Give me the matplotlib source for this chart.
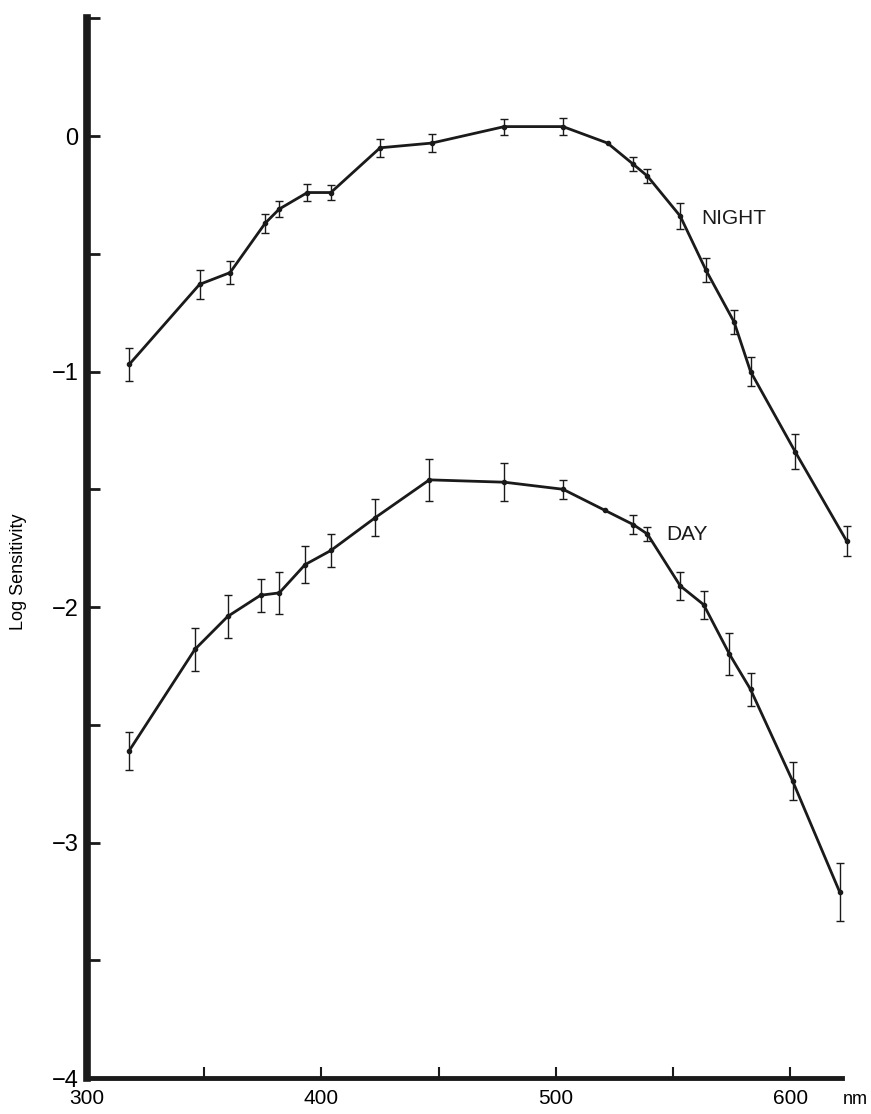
import numpy as np
import matplotlib
matplotlib.use('Agg')
from matplotlib import pyplot as plt
from matplotlib.ticker import FixedLocator, NullFormatter

# wavelength [nm], log sensitivity and error half-width
night_nm = [318, 348, 361, 376, 382, 394, 404, 425, 447, 478, 503, 522,
            533, 539, 553, 564, 576, 583, 602, 624]
night_log = [-0.97, -0.63, -0.58, -0.37, -0.31, -0.24, -0.24, -0.05, -0.03, 0.04, 0.04, -0.03,
             -0.12, -0.17, -0.34, -0.57, -0.79, -1.00, -1.34, -1.72]
night_err = [0.07, 0.06, 0.05, 0.04, 0.035, 0.035, 0.03, 0.038, 0.037, 0.034, 0.035, 0.0,
             0.03, 0.03, 0.055, 0.05, 0.05, 0.06, 0.075, 0.065]

day_nm = [318, 346, 360, 374, 382, 393, 404, 423, 446, 478, 503, 521,
          533, 539, 553, 563, 574, 583, 601, 621]
day_log = [-2.61, -2.18, -2.04, -1.95, -1.94, -1.82, -1.76, -1.62, -1.46, -1.47, -1.50, -1.59,
           -1.65, -1.69, -1.91, -1.99, -2.20, -2.35, -2.74, -3.21]
day_err = [0.08, 0.09, 0.09, 0.07, 0.09, 0.08, 0.07, 0.08, 0.09, 0.08, 0.04, 0.0,
           0.04, 0.03, 0.06, 0.06, 0.09, 0.07, 0.08, 0.125]

y_major = [0, -1, -2, -3, -4]
y_minor = [0.5, -0.5, -1.5, -2.5, -3.5]
x_major = [300, 400, 500, 600]
x_minor = [350, 450, 550]

fig = plt.figure(figsize=(8.71, 11.14), dpi=100)
ax = fig.add_axes([0.0999, 0.0323, 0.8668, 0.9513])

for nm, val, err in [(night_nm, night_log, night_err), (day_nm, day_log, day_err)]:
    nm, val, err = np.array(nm), np.array(val), np.array(err)
    ax.plot(nm, val, '-', color='#1a1a1a', lw=2.0, marker='o', ms=3, clip_on=False, zorder=3)
    has = err > 0
    ax.errorbar(nm[has], val[has], yerr=err[has], fmt='none', ecolor='#1a1a1a',
                elinewidth=1.0, capsize=2.8, capthick=1.0, clip_on=False, zorder=2)

ax.text(562, -0.35, 'NIGHT', fontsize=15, family='Liberation Sans', va='center', ha='left', color='#1a1a1a')
ax.text(547, -1.69, 'DAY', fontsize=15, family='Liberation Sans', va='center', ha='left', color='#1a1a1a')

ax.set_xlim(300, 622)
ax.set_ylim(-4, 0.5)

ax.spines['top'].set_visible(False)
ax.spines['right'].set_visible(False)
ax.spines['left'].set_linewidth(5.5)
ax.spines['bottom'].set_linewidth(3.5)
ax.spines['left'].set_color('#1a1a1a')
ax.spines['bottom'].set_color('#1a1a1a')

ax.yaxis.set_major_locator(FixedLocator(y_major))
ax.yaxis.set_minor_locator(FixedLocator(y_minor))
ax.set_yticklabels([str(v).replace('-', '\u2212') for v in y_major], family='Liberation Sans', fontsize=17)
ax.yaxis.set_minor_formatter(NullFormatter())
ax.xaxis.set_major_locator(FixedLocator(x_major))
ax.xaxis.set_minor_locator(FixedLocator(x_minor))
ax.set_xticklabels([str(v) for v in x_major], family=['Liberation Sans Narrow', 'Liberation Sans'], fontsize=15)
ax.xaxis.set_minor_formatter(NullFormatter())

ax.tick_params(axis='y', which='both', direction='in', length=9, width=2, pad=6, color='#1a1a1a')
ax.tick_params(axis='x', which='both', direction='in', length=8, width=1.5, pad=8, color='#1a1a1a')

ax.text(627.5, -4.09, 'nm', fontsize=13, family=['Liberation Sans Narrow', 'Liberation Sans'],
        ha='center', va='center', clip_on=False)
ax.set_ylabel('Log Sensitivity', fontsize=13, family='Liberation Sans', labelpad=28)
ax.yaxis.set_label_coords(-0.08, 0.478)

fig.savefig('out.png', dpi=100, facecolor='white')
